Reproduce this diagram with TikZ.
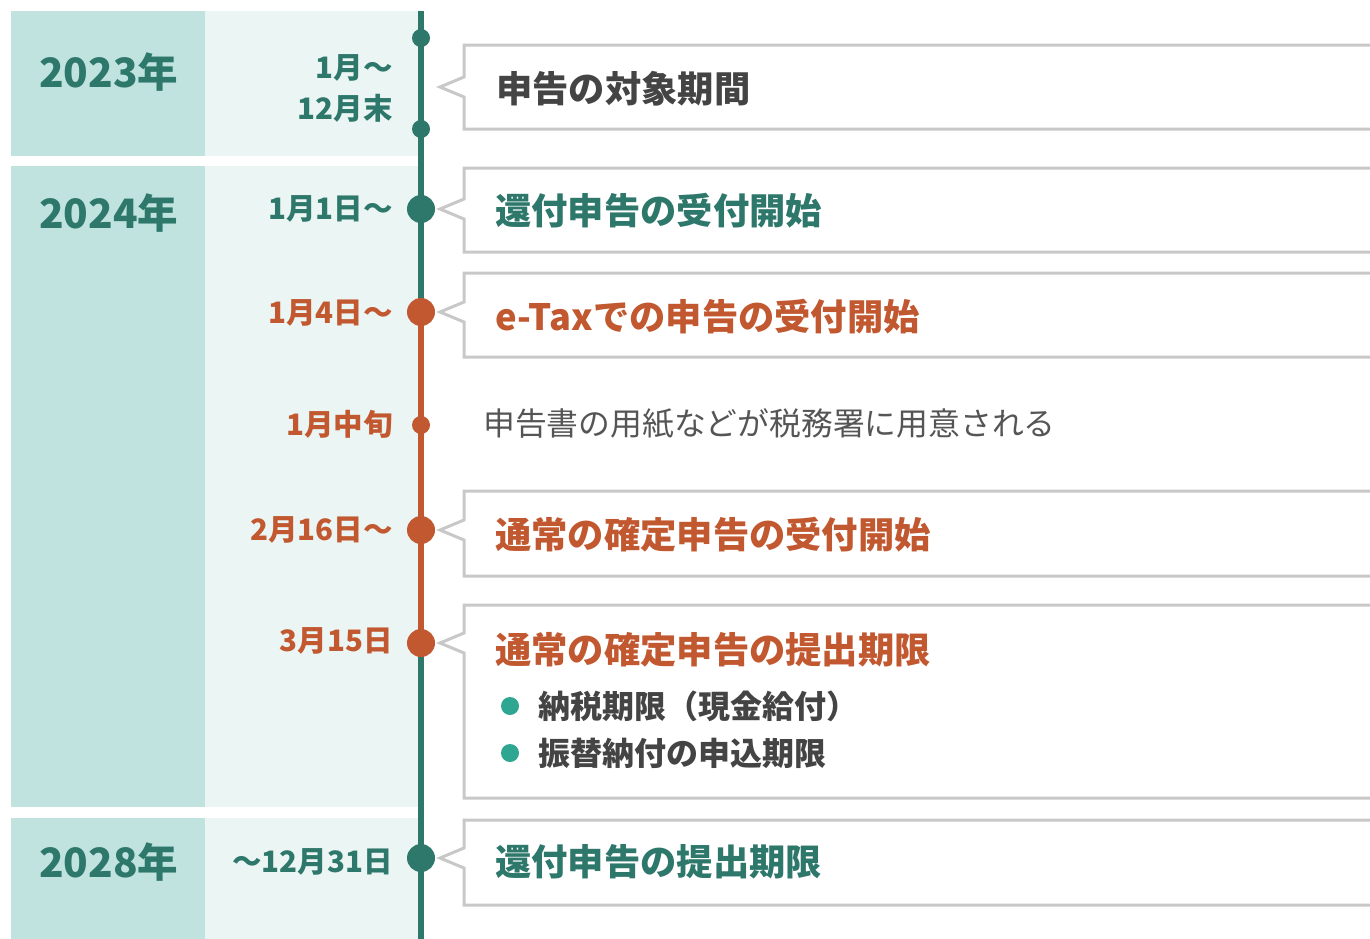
\documentclass[tikz,border=0pt]{standalone}
\usepackage{fontspec}
\setmainfont{Noto Sans CJK JP}
\definecolor{yearbg}{HTML}{C0E3DF}
\definecolor{datebg}{HTML}{EBF5F3}
\definecolor{teal}{HTML}{2E776B}
\definecolor{orng}{HTML}{C1582F}
\definecolor{txtgray}{HTML}{444444}
\definecolor{notegray}{HTML}{555555}
\definecolor{bulletc}{HTML}{2FA692}
\definecolor{bordergray}{HTML}{C8C8C8}
\tikzset{
  yeartxt/.style={anchor=west,inner sep=0pt,text=teal,font=\bfseries\fontsize{40.5}{44}\selectfont},
  datetxt/.style={anchor=east,inner sep=0pt,font=\bfseries\fontsize{29.5}{32}\selectfont},
  titletxt/.style={anchor=west,inner sep=0pt,font=\bfseries\fontsize{36.3}{40}\selectfont},
  bullettxt/.style={anchor=west,inner sep=0pt,text=txtgray,font=\bfseries\fontsize{32}{35}\selectfont},
  notetxt/.style={anchor=west,inner sep=0pt,text=notegray,font=\fontsize{31.8}{35}\selectfont},
  bigdot/.style={circle,inner sep=0pt,minimum size=28pt},
  smalldot/.style={circle,inner sep=0pt,minimum size=18pt},
  bulletdot/.style={circle,inner sep=0pt,minimum size=18pt,fill=bulletc},
  callout/.style={fill=white,draw=bordergray,line width=3pt,line join=miter},
  tline/.style={line width=6pt},
}
\begin{document}
\begin{tikzpicture}[x=1pt,y=-1pt]
\useasboundingbox (0,0) rectangle (1370,938);
\clip (0,0) rectangle (1370,938);
% row backgrounds
\fill[yearbg] (11,11) rectangle (205,156);
\fill[datebg] (205,11) rectangle (421,156);
\fill[yearbg] (11,166) rectangle (205,807);
\fill[datebg] (205,166) rectangle (421,807);
\fill[yearbg] (11,818) rectangle (205,940);
\fill[datebg] (205,818) rectangle (421,940);
% callout boxes
\foreach \t/\b/\p in {45/129/87, 168/252/209, 273/357/312, 491/576/530, 605/798/643, 820/905/858}{
  \path[callout] (1380,\t) -- (464,\t) -- (464,\p-10) -- (440,\p) -- (464,\p+10) -- (464,\b) -- (1380,\b);
}
% years
\node[yeartxt] (y2023) at (39,72) {2023年};
\node[yeartxt] (y2024) at (39,213) {2024年};
\node[yeartxt] (y2028) at (39,862) {2028年};
% dates
\node[datetxt,text=teal] (t1) at (393,68) {1月〜};
\node[datetxt,text=teal] (t2) at (393,108) {12月末};
\node[datetxt,text=teal] (t3) at (393,209) {1月1日〜};
\node[datetxt,text=orng] (t4) at (393,313) {1月4日〜};
\node[datetxt,text=orng] (t5) at (393,424) {1月中旬};
\node[datetxt,text=orng] (t6) at (393,530) {2月16日〜};
\node[datetxt,text=orng] (t7) at (393,641) {3月15日};
\node[datetxt,text=teal] (t8) at (393,862) {〜12月31日};
% timeline
\coordinate (ltop) at (421,11);
\coordinate (lbot) at (421,940);
\coordinate (la) at (421,38);
\coordinate (lb) at (421,129);
\coordinate (lc) at (421,209);
\coordinate (ld) at (421,312);
\coordinate (le) at (421,425);
\coordinate (lf) at (421,530);
\coordinate (lg) at (421,643);
\coordinate (lh) at (421,858);
\draw[tline,teal] (ltop) -- (ld);
\draw[tline,orng] (ld) -- (lg);
\draw[tline,teal] (lg) -- (lbot);
\node[smalldot,fill=teal] (da) at (la) {};
\node[smalldot,fill=teal] (db) at (lb) {};
\node[bigdot,fill=teal] (dc) at (lc) {};
\node[bigdot,fill=orng] (dd) at (ld) {};
\node[smalldot,fill=orng] (de) at (le) {};
\node[bigdot,fill=orng] (df) at (lf) {};
\node[bigdot,fill=orng] (dg) at (lg) {};
\node[bigdot,fill=teal] (dh) at (lh) {};
% titles
\node[titletxt,text=txtgray] (b1) at (496,89) {申告の対象期間};
\node[titletxt,text=teal] (b2) at (495,211) {還付申告の受付開始};
\node[titletxt,text=orng] (b3) at (495,317) {e-Taxでの申告の受付開始};
\node[notetxt] (n1) at (483,424) {申告書の用紙などが税務署に用意される};
\node[titletxt,text=orng] (b4) at (495,535) {通常の確定申告の受付開始};
\node[titletxt,text=orng] (b5) at (495,650) {通常の確定申告の提出期限};
\node[bulletdot] (p1) at (510,706) {};
\node[bullettxt] (s1) at (538,706) {納税期限（現金給付）};
\node[bulletdot] (p2) at (510,753) {};
\node[bullettxt] (s2) at (538,753) {振替納付の申込期限};
\node[titletxt,text=teal] (b6) at (495,862) {還付申告の提出期限};
\end{tikzpicture}
\end{document}
